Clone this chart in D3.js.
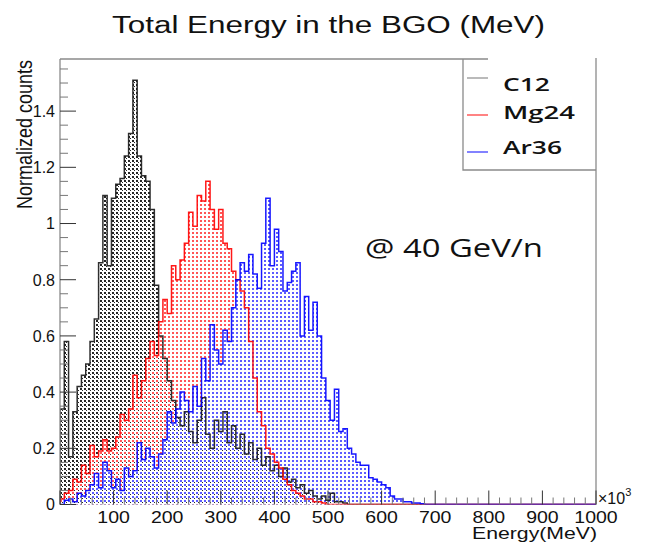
<!DOCTYPE html>
<html>
<head>
<meta charset="utf-8">
<script src="https://cdn.jsdelivr.net/npm/d3@7"></script>
<style>
  html, body { margin: 0; padding: 0; background: #fff; }
  svg { display: block; }
</style>
</head>
<body>
<svg id="chart" width="654" height="548"></svg>
<script>
// Histogram binning: 125 bins of 8 (x10^3 MeV) over 0..1000
const binWidth = 8;
const xMax = 1000;
const yMax = 1.5855;

// Axis ticks
const xMajorTicks = [0, 100, 200, 300, 400, 500, 600, 700, 800, 900, 1000];
const xTickLabels = ["", "100", "200", "300", "400", "500", "600", "700", "800", "900", "1000"];
const yMajorTicks = [0, 0.2, 0.4, 0.6, 0.8, 1.0, 1.2, 1.4];
const yTickLabels = ["0", "0.2", "0.4", "0.6", "0.8", "1", "1.2", "1.4"];

// Normalized counts per bin (bins beyond the listed ones are empty)
const c12 = [
  0.34, 0.58, 0.17, 0.33, 0.42, 0.46, 0.50, 0.58, 0.66, 0.86,
  1.10, 0.85, 1.09, 1.14, 1.16, 1.24, 1.32, 1.51, 1.24, 1.17,
  1.15, 1.05, 0.78, 0.60, 0.52, 0.44, 0.37, 0.31, 0.28, 0.33,
  0.26, 0.22, 0.30, 0.38, 0.25, 0.20, 0.30, 0.26, 0.33, 0.22,
  0.28, 0.20, 0.25, 0.18, 0.22, 0.16, 0.20, 0.14, 0.17, 0.12,
  0.14, 0.10, 0.13, 0.08, 0.09, 0.06, 0.07, 0.04, 0.05, 0.03,
  0.02, 0.03, 0.015, 0.04, 0.01, 0.01, 0.005
];
const mg24 = [
  0.02, 0.04, 0.05, 0.09, 0.08, 0.14, 0.11, 0.21, 0.17, 0.19,
  0.23, 0.19, 0.20, 0.24, 0.32, 0.30, 0.34, 0.46, 0.38, 0.44,
  0.52, 0.58, 0.53, 0.65, 0.73, 0.68, 0.85, 0.80, 0.87, 0.93,
  1.04, 0.99, 1.10, 1.08, 1.15, 1.05, 0.98, 1.05, 0.93, 0.91,
  0.83, 0.80, 0.76, 0.70, 0.58, 0.45, 0.33, 0.28, 0.20, 0.18,
  0.15, 0.13, 0.09, 0.07, 0.05, 0.04, 0.03, 0.02, 0.02, 0.01,
  0.01, 0.005
];
const ar36 = [
  0.0, 0.015, 0.02, 0.01, 0.04, 0.03, 0.05, 0.07, 0.11, 0.06,
  0.15, 0.12, 0.06, 0.09, 0.05, 0.13, 0.10, 0.12, 0.22, 0.16,
  0.20, 0.17, 0.13, 0.18, 0.23, 0.33, 0.29, 0.34, 0.40, 0.37,
  0.33, 0.42, 0.35, 0.52, 0.44, 0.64, 0.55, 0.50, 0.62, 0.58,
  0.70, 0.80, 0.86, 0.83, 0.89, 0.82, 0.77, 0.93, 1.09, 0.85,
  0.98, 0.90, 0.76, 0.79, 0.83, 0.86, 0.60, 0.74, 0.62, 0.72,
  0.60, 0.45, 0.37, 0.30, 0.41, 0.26, 0.27, 0.20, 0.18, 0.15,
  0.14, 0.14, 0.095, 0.09, 0.08, 0.07, 0.06, 0.03, 0.02, 0.02,
  0.01, 0.01, 0.005, 0.005, 0.003
];

const seriesNames = ["C12", "Mg24", "Ar36"];
const seriesValues = [c12, mg24, ar36];
const lineColors = ["#1a1a1a", "#ff0000", "#0000ff"];
const fillColors = ["#262626", "#ff5656", "#5c5cff"];
const legendColors = ["#8c8c8c", "#ff3030", "#3030ff"];
// Cells [x, y, w, h] of the shared 4x4 stipple tile for each histogram
const stippleCells = [
  [[0, 0, 2, 2], [2, 2, 1, 1]],
  [[0, 0, 2, 2]],
  [[0, 0, 2, 2]]
];

const svg = d3.select("#chart");
const frame = { left: 60, right: 596, top: 59, bottom: 504.5 };

const x = d3.scaleLinear().domain([0, xMax]).range([frame.left, frame.right]);
const y = d3.scaleLinear().domain([0, yMax]).range([frame.bottom, frame.top]);

// Stipple fill patterns, one per histogram, all on the same pixel grid
const defs = svg.append("defs");
seriesNames.forEach((name, k) => {
  const p = defs.append("pattern")
    .attr("id", "pat-" + name)
    .attr("patternUnits", "userSpaceOnUse")
    .attr("width", 4).attr("height", 4);
  p.selectAll("rect").data(stippleCells[k]).join("rect")
    .attr("x", d => d[0]).attr("y", d => d[1])
    .attr("width", d => d[2]).attr("height", d => d[3])
    .attr("shape-rendering", "crispEdges")
    .attr("fill", fillColors[k]);
});
defs.append("clipPath").attr("id", "plot-clip")
  .append("rect")
  .attr("x", frame.left).attr("y", frame.top - 2)
  .attr("width", frame.right - frame.left).attr("height", frame.bottom - frame.top + 2);

// Step geometry for a histogram
function stepPoints(vals) {
  const pts = [[0, 0]];
  vals.forEach((v, i) => pts.push([i * binWidth, v]));
  pts.push([vals.length * binWidth, 0]);
  pts.push([xMax, 0]);
  return pts;
}
const areaGen = d3.area()
  .x(d => x(d[0])).y0(y(0)).y1(d => y(d[1]))
  .curve(d3.curveStepAfter);
const lineGen = d3.line()
  .x(d => x(d[0])).y(d => y(d[1]))
  .curve(d3.curveStepAfter);

const plot = svg.append("g").attr("clip-path", "url(#plot-clip)");

// Stipple fills (later ones overwrite the shared pixels), then all outlines
seriesValues.forEach((vals, k) => {
  plot.append("path")
    .attr("d", areaGen(stepPoints(vals)))
    .attr("fill", "url(#pat-" + seriesNames[k] + ")")
    .attr("stroke", "none");
});
seriesValues.forEach((vals, k) => {
  plot.append("path")
    .attr("d", lineGen(stepPoints(vals)))
    .attr("fill", "none")
    .attr("stroke", lineColors[k])
    .attr("stroke-width", 1.5)
    .attr("stroke-opacity", 0.9);
});

// Frame
const frameColor = "#8a8a8a";
const fr = svg.append("g").attr("stroke", frameColor).attr("stroke-width", 1.3).attr("fill", "none");
fr.append("line").attr("x1", frame.left).attr("x2", frame.left).attr("y1", frame.top).attr("y2", frame.bottom);
fr.append("line").attr("x1", frame.left).attr("x2", 488).attr("y1", frame.top).attr("y2", frame.top);
fr.append("line").attr("x1", frame.right).attr("x2", frame.right).attr("y1", frame.top - 1).attr("y2", frame.bottom);

// Y axis ticks (inside the frame)
const yt = svg.append("g").attr("stroke-width", 1);
d3.range(0, 1.56, 0.05).forEach(v => {
  const major = yMajorTicks.some(t => Math.abs(t - v) < 1e-6);
  yt.append("line")
    .attr("x1", frame.left).attr("x2", frame.left + (major ? 16 : 8))
    .attr("y1", y(v)).attr("y2", y(v))
    .attr("stroke", major ? "#333" : "#777");
});
// X axis ticks
const xt = svg.append("g").attr("stroke-width", 1);
d3.range(0, 1001, 20).forEach(v => {
  const major = v % 100 === 0;
  xt.append("line")
    .attr("x1", x(v)).attr("x2", x(v))
    .attr("y1", frame.bottom).attr("y2", frame.bottom - (major ? 14 : 7))
    .attr("stroke", major ? "#333" : "#777");
});

const font = "'Liberation Sans', Arial, Helvetica, sans-serif";

// Y tick labels
svg.append("g").selectAll("text").data(yMajorTicks).join("text")
  .attr("x", 55).attr("y", d => y(d) + 5.8)
  .attr("text-anchor", "end")
  .attr("font-family", font).attr("font-size", 16).attr("fill", "#111")
  .text((d, i) => yTickLabels[i]);

// X tick labels (slightly widened glyphs)
svg.append("g").selectAll("g").data(xMajorTicks).join("g")
  .attr("transform", d => `translate(${x(d)},523) scale(1.22,1)`)
  .append("text")
  .attr("text-anchor", "middle")
  .attr("font-family", font).attr("font-size", 16).attr("fill", "#111")
  .text((d, i) => xTickLabels[i]);

// Axis titles
svg.append("g").attr("transform", "translate(32,60) scale(1.2,1) rotate(-90)")
  .append("text")
  .attr("text-anchor", "end")
  .attr("font-family", font).attr("font-size", 18).attr("fill", "#111")
  .text("Normalized counts");

svg.append("text")
  .attr("x", 597).attr("y", 539)
  .attr("text-anchor", "end")
  .attr("font-family", font).attr("font-size", 16).attr("fill", "#111")
  .attr("textLength", 125).attr("lengthAdjust", "spacingAndGlyphs")
  .text("Energy(MeV)");

// Exponent label
const expo = svg.append("text")
  .attr("x", 598).attr("y", 504)
  .attr("font-family", font).attr("font-size", 16).attr("fill", "#111");
expo.append("tspan").text("\u00d710");
expo.append("tspan").attr("font-size", 11).attr("dy", -8).text("3");

// Title
svg.append("text")
  .attr("x", 112).attr("y", 33)
  .attr("font-family", font).attr("font-size", 23).attr("fill", "#111")
  .attr("textLength", 433).attr("lengthAdjust", "spacingAndGlyphs")
  .text("Total Energy in the BGO (MeV)");

// Legend
const lg = svg.append("g");
lg.append("path")
  .attr("d", `M463,${frame.top} V170 H${frame.right}`)
  .attr("fill", "none").attr("stroke", frameColor).attr("stroke-width", 1.3);
const legendLineY = [78, 115, 152];
const legendTextY = [91, 119, 154];
const legendTextW = [47, 72, 59];
seriesNames.forEach((name, k) => {
  lg.append("line")
    .attr("x1", 467).attr("x2", 488)
    .attr("y1", legendLineY[k]).attr("y2", legendLineY[k])
    .attr("stroke", legendColors[k]).attr("stroke-width", 1.2);
  lg.append("text")
    .attr("x", 503).attr("y", legendTextY[k])
    .attr("font-family", "'Open Sans', sans-serif").attr("font-size", 18)
    .attr("font-weight", 600).attr("fill", "#111")
    .attr("textLength", legendTextW[k]).attr("lengthAdjust", "spacingAndGlyphs")
    .text(name);
});

// Beam energy annotation
svg.append("text")
  .attr("x", 365).attr("y", 257)
  .attr("font-family", "'Open Sans', sans-serif").attr("font-size", 25).attr("fill", "#111")
  .attr("textLength", 178).attr("lengthAdjust", "spacingAndGlyphs")
  .text("@ 40 GeV/n");
</script>
</body>
</html>
